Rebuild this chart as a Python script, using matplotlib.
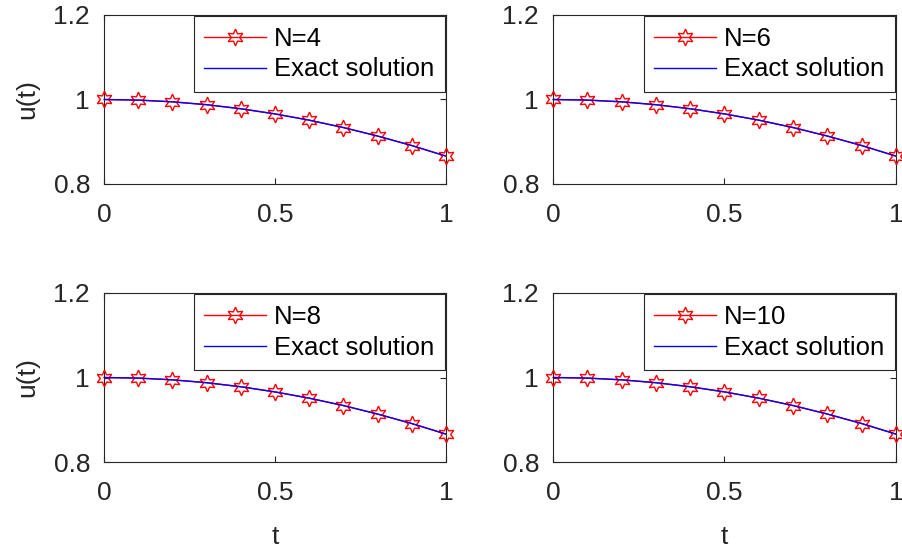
import numpy as np
import matplotlib
matplotlib.use("Agg")
import matplotlib.pyplot as plt

plt.rcParams['font.family'] = ['Liberation Sans', 'DejaVu Sans']
plt.rcParams['font.size'] = 19

t = [0.0, 0.1, 0.2, 0.3, 0.4, 0.5, 0.6, 0.7, 0.8, 0.9, 1.0]
# approximate values (same for every N, the curves overlap the exact one)
u_approx = [1.000, 0.9986, 0.9945, 0.9877, 0.9781, 0.9659, 0.9511, 0.9336, 0.9135, 0.8910, 0.8660]
u_exact = [1.000, 0.9986, 0.9945, 0.9877, 0.9781, 0.9659, 0.9511, 0.9336, 0.9135, 0.8910, 0.8660]
n_values = [4, 6, 8, 10]

# axes boxes in pixels: left, top, right, bottom
W, H = 903, 556
boxes = [(104, 15, 446, 184), (553, 15, 896, 184),
         (104, 293, 446, 462), (553, 293, 896, 462)]

fig = plt.figure(figsize=(W / 100, H / 100), dpi=100)
dark = '#262626'

for i, (n, (l, tp, r, b)) in enumerate(zip(n_values, boxes)):
    ax = fig.add_axes([l / W, 1 - b / H, (r - l) / W, (b - tp) / H])
    ax.plot(t, u_approx, color='red', lw=1, marker=(6, 1, 0), markersize=12,
            markerfacecolor='none', markeredgecolor='red', markeredgewidth=1,
            label=f'N={n}', clip_on=False, zorder=3)
    ax.plot(t, u_exact, color='blue', lw=1, label='Exact solution', zorder=4)
    ax.set_xlim(0, 1)
    ax.set_ylim(0.8, 1.2)
    ax.set_xticks([0, 0.5, 1])
    ax.set_xticklabels(['0', '0.5', '1'])
    ax.set_yticks([0.8, 1.0, 1.2])
    ax.set_yticklabels(['0.8', '1', '1.2'])
    ax.tick_params(direction='in', length=4, width=0.8, colors=dark,
                   labelsize=19, top=True, right=True)
    ax.tick_params(axis='x', pad=14)
    ax.tick_params(axis='y', pad=10)
    for s in ax.spines.values():
        s.set_color(dark)
        s.set_linewidth(0.8)
    if i % 2 == 0:
        ax.set_ylabel('u(t)', fontsize=19, color=dark, labelpad=10)
    if i >= 2:
        ax.set_xlabel('t', fontsize=19, color=dark, labelpad=14)
    leg = ax.legend(loc='upper right', bbox_to_anchor=(1, 1), borderaxespad=0.05,
                    fancybox=False, framealpha=1, edgecolor=dark,
                    handlelength=2.4, handletextpad=0.3, labelspacing=0.25,
                    fontsize=18.5, borderpad=0.42)
    leg.get_frame().set_linewidth(0.8)

fig.savefig('out.png', dpi=100)
